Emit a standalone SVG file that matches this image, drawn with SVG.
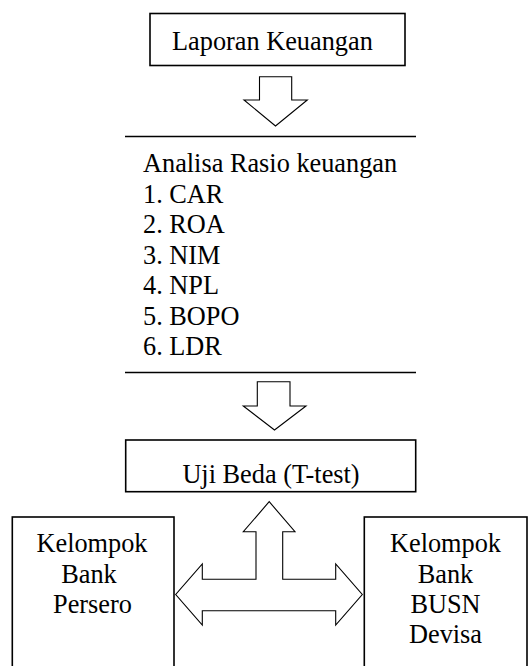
<svg xmlns="http://www.w3.org/2000/svg" width="528" height="666" viewBox="0 0 528 666" font-family="'Liberation Serif', 'Times New Roman', 'DejaVu Serif', serif" font-size="26.3">
<style>
.box{fill:#fff;stroke:#000;stroke-width:1.6}
.line{stroke:#000;stroke-width:1.6}
.arr{fill:#fff;stroke:#000;stroke-width:1.1;stroke-linejoin:miter}
.c{text-anchor:middle}
</style>
<rect width="528" height="666" fill="#fff"/>
<g id="laporan">
<rect class="box" x="150" y="13.5" width="255" height="52"/>
<text x="172" y="50">Laporan Keuangan</text>
</g>
<g id="analisa">
<line class="line" x1="125" y1="136.5" x2="416" y2="136.5"/>
<line class="line" x1="125" y1="372.5" x2="416" y2="372.5"/>
<text x="143" y="172">Analisa Rasio keuangan</text>
<text x="143" y="202.5">1. CAR</text>
<text x="143" y="233">2. ROA</text>
<text x="143" y="263.5">3. NIM</text>
<text x="143" y="294">4. NPL</text>
<text x="143" y="324.5">5. BOPO</text>
<text x="143" y="355">6. LDR</text>
</g>
<g id="ujibeda">
<rect class="box" x="125.7" y="440" width="290" height="51.7"/>
<text class="c" x="271" y="483">Uji Beda (T-test)</text>
</g>
<g id="persero">
<rect class="box" x="12.3" y="517" width="161.7" height="160"/>
<text class="c" x="92" y="552">Kelompok</text>
<text class="c" x="89" y="582.5">Bank</text>
<text class="c" x="92.5" y="613">Persero</text>
</g>
<g id="busn">
<rect class="box" x="364.3" y="517" width="162.7" height="160"/>
<text class="c" x="445.5" y="552">Kelompok</text>
<text class="c" x="445.5" y="582.5">Bank</text>
<text class="c" x="445.5" y="613">BUSN</text>
<text class="c" x="445.5" y="643">Devisa</text>
</g>
<g id="connectors">
<path class="arr" d="M259.5,76.7 H291.7 V100 H307.3 L275.5,126 L244,100 H259.5 Z"/>
<path class="arr" d="M257.3,381.7 H290 V406 H306 L274.5,430 L243.3,406 H257.3 Z"/>
<path class="arr" d="M269.2,501.7 L295,531.7 H282.7 V579.3 H335.7 V564 L362.3,594.5 L335.7,625 V610.7 H202.3 V625 L175.7,594.5 L202.3,564 V579.3 H256 V531.7 H243.3 Z"/>
</g>
</svg>
